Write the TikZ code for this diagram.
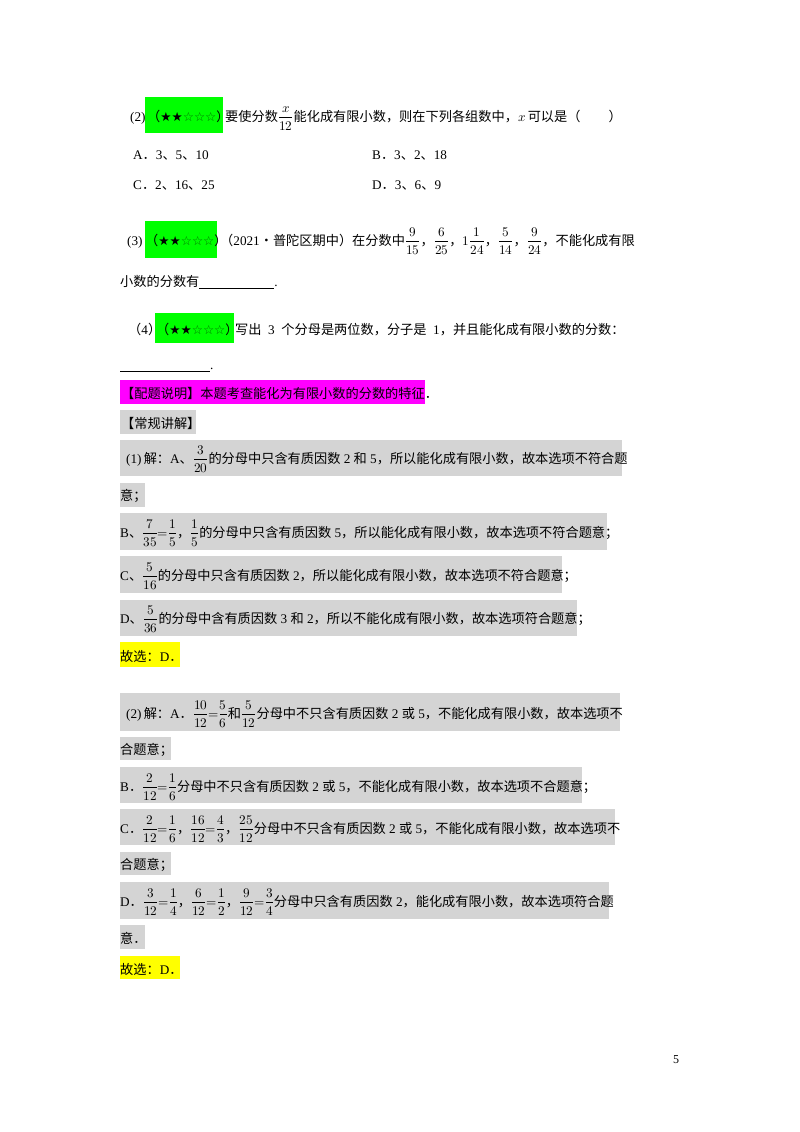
\documentclass[tikz,border=0pt]{standalone}
\usepackage{amsmath}
\usepackage{fontspec}
\usepackage{unicode-math}
\setmainfont{Liberation Serif}
\setmathfont{Latin Modern Math}
\newfontfamily\cjk{Noto Sans CJK SC}
\newfontfamily\sym{DejaVu Sans}
\newcommand{\zh}[1]{{\cjk #1}}
\newcommand{\stars}{{\zh{（}\sym\fontsize{12.5}{12.5}\selectfont ★★\textcolor{green!45!black}{☆☆☆}\zh{）}}}
\definecolor{hgreen}{RGB}{0,255,0}
\definecolor{hmag}{RGB}{255,0,255}
\definecolor{hyel}{RGB}{255,255,0}
\definecolor{hgray}{RGB}{212,212,212}
\tikzset{t/.style={anchor=base west,inner sep=0pt,font=\fontsize{13.2}{16}\selectfont}}
\begin{document}
\begin{tikzpicture}[x=1pt,y=-1pt]
\useasboundingbox[fill=white] (0,0) rectangle (800,1132);
% highlight boxes
\fill[hgreen] (145,97) rectangle (223,133);
\fill[hgreen] (145,221) rectangle (217,258);
\fill[hgreen] (155,313) rectangle (234,343);
\fill[hmag] (120,380) rectangle (425,404);
\foreach \a/\b/\c/\d in {120/410/196/434, 120/440/622/476, 120/483/145/507, 120/513/607/550, 120/556/562/593, 120/600/577/636,
 120/693/620/731, 120/737/171/760, 120/767/582/803, 120/809/615/845, 120/852/171/875, 120/882/609/919, 120/925/145/949}
  \fill[hgray] (\a,\b) rectangle (\c,\d);
\fill[hyel] (120,642) rectangle (180,667);
\fill[hyel] (120,956) rectangle (180,979);
% question 2
\node[t] (q2a) at (130,121) {(2)};
\node[t] (q2s) at (147,121) {\stars};
\node[t] (q2b) at (225,121) {\zh{要使分数}$\dfrac{x}{12}$\zh{能化成有限小数，则在下列各组数中，}$x$\,\zh{可以是（}\hspace{28pt}\zh{）}};
\node[t] (oa) at (133,159) {A\zh{．}3\zh{、}5\zh{、}10};
\node[t] (ob) at (372,159) {B\zh{．}3\zh{、}2\zh{、}18};
\node[t] (oc) at (133,189) {C\zh{．}2\zh{、}16\zh{、}25};
\node[t] (od) at (372,189) {D\zh{．}3\zh{、}6\zh{、}9};
% question 3
\node[t] (q3a) at (127,245) {(3)};
\node[t] (q3s) at (145,245) {\stars};
\node[t] (q3b) at (220,245) {\zh{（}2021\zh{•普陀区期中）在分数中}$\dfrac{9}{15}$\zh{，}$\dfrac{6}{25}$\zh{，}$1\dfrac{1}{24}$\zh{，}$\dfrac{5}{14}$\zh{，}$\dfrac{9}{24}$\zh{，不能化成有限}};
\node[t] (q3c) at (120,286) {\zh{小数的分数有}\rule[-2pt]{75pt}{0.5pt}.};
% question 4
\node[t] (q4a) at (128,334) {\zh{（}4\zh{）}};
\node[t] (q4s) at (156,334) {\stars};
\node[t] (q4b) at (235,334) {\zh{写出}\ \ 3\ \ \zh{个分母是两位数，分子是}\ \ 1\zh{，并且能化成有限小数的分数：}};
\node[t] (q4c) at (120,369) {\rule[-2pt]{90pt}{0.5pt}.};
% explanation
\node[t] (pt) at (121,398) {\zh{【配题说明】本题考查能化为有限小数的分数的特征．}};
\node[t] (cg) at (121,428) {\zh{【常规讲解】}};
\node[t] (s1a) at (126,463) {(1)\,\zh{解：}A\zh{、}$\dfrac{3}{20}$\zh{的分母中只含有质因数} 2 \zh{和} 5\zh{，所以能化成有限小数，故本选项不符合题}};
\node[t] (s1b) at (120,500) {\zh{意；}};
\node[t] (s1c) at (120,537) {B\zh{、}$\dfrac{7}{35}{=}\dfrac{1}{5}$\zh{，}$\dfrac{1}{5}$\zh{的分母中只含有质因数} 5\zh{，所以能化成有限小数，故本选项不符合题意；}};
\node[t] (s1d) at (120,580) {C\zh{、}$\dfrac{5}{16}$\zh{的分母中只含有质因数} 2\zh{，所以能化成有限小数，故本选项不符合题意；}};
\node[t] (s1e) at (120,623) {D\zh{、}$\dfrac{5}{36}$\zh{的分母中含有质因数} 3 \zh{和} 2\zh{，所以不能化成有限小数，故本选项符合题意；}};
\node[t] (s1f) at (120,661) {\zh{故选：}D\zh{．}};
\node[t] (s2a) at (126,718) {(2)\,\zh{解：}A\zh{．}$\dfrac{10}{12}{=}\dfrac{5}{6}$\zh{和}$\dfrac{5}{12}$\zh{分母中不只含有质因数} 2 \zh{或} 5\zh{，不能化成有限小数，故本选项不}};
\node[t] (s2b) at (120,754) {\zh{合题意；}};
\node[t] (s2c) at (120,791) {B\zh{．}$\dfrac{2}{12}{=}\dfrac{1}{6}$\zh{分母中不只含有质因数} 2 \zh{或} 5\zh{，不能化成有限小数，故本选项不合题意；}};
\node[t] (s2d) at (120,833) {C\zh{．}$\dfrac{2}{12}{=}\dfrac{1}{6}$\zh{，}$\dfrac{16}{12}{=}\dfrac{4}{3}$\zh{，}$\dfrac{25}{12}$\zh{分母中不只含有质因数} 2 \zh{或} 5\zh{，不能化成有限小数，故本选项不}};
\node[t] (s2e) at (120,869) {\zh{合题意；}};
\node[t] (s2f) at (120,906) {D\zh{．}$\dfrac{3}{12}{=}\dfrac{1}{4}$\zh{，}$\dfrac{6}{12}{=}\dfrac{1}{2}$\zh{，}$\dfrac{9}{12}{=}\dfrac{3}{4}$\zh{分母中只含有质因数} 2\zh{，能化成有限小数，故本选项符合题}};
\node[t] (s2g) at (120,943) {\zh{意．}};
\node[t] (s2h) at (120,974) {\zh{故选：}D\zh{．}};
\node[t,font=\fontsize{12}{14}\selectfont] (pg) at (673,1063) {5};
\end{tikzpicture}
\end{document}
